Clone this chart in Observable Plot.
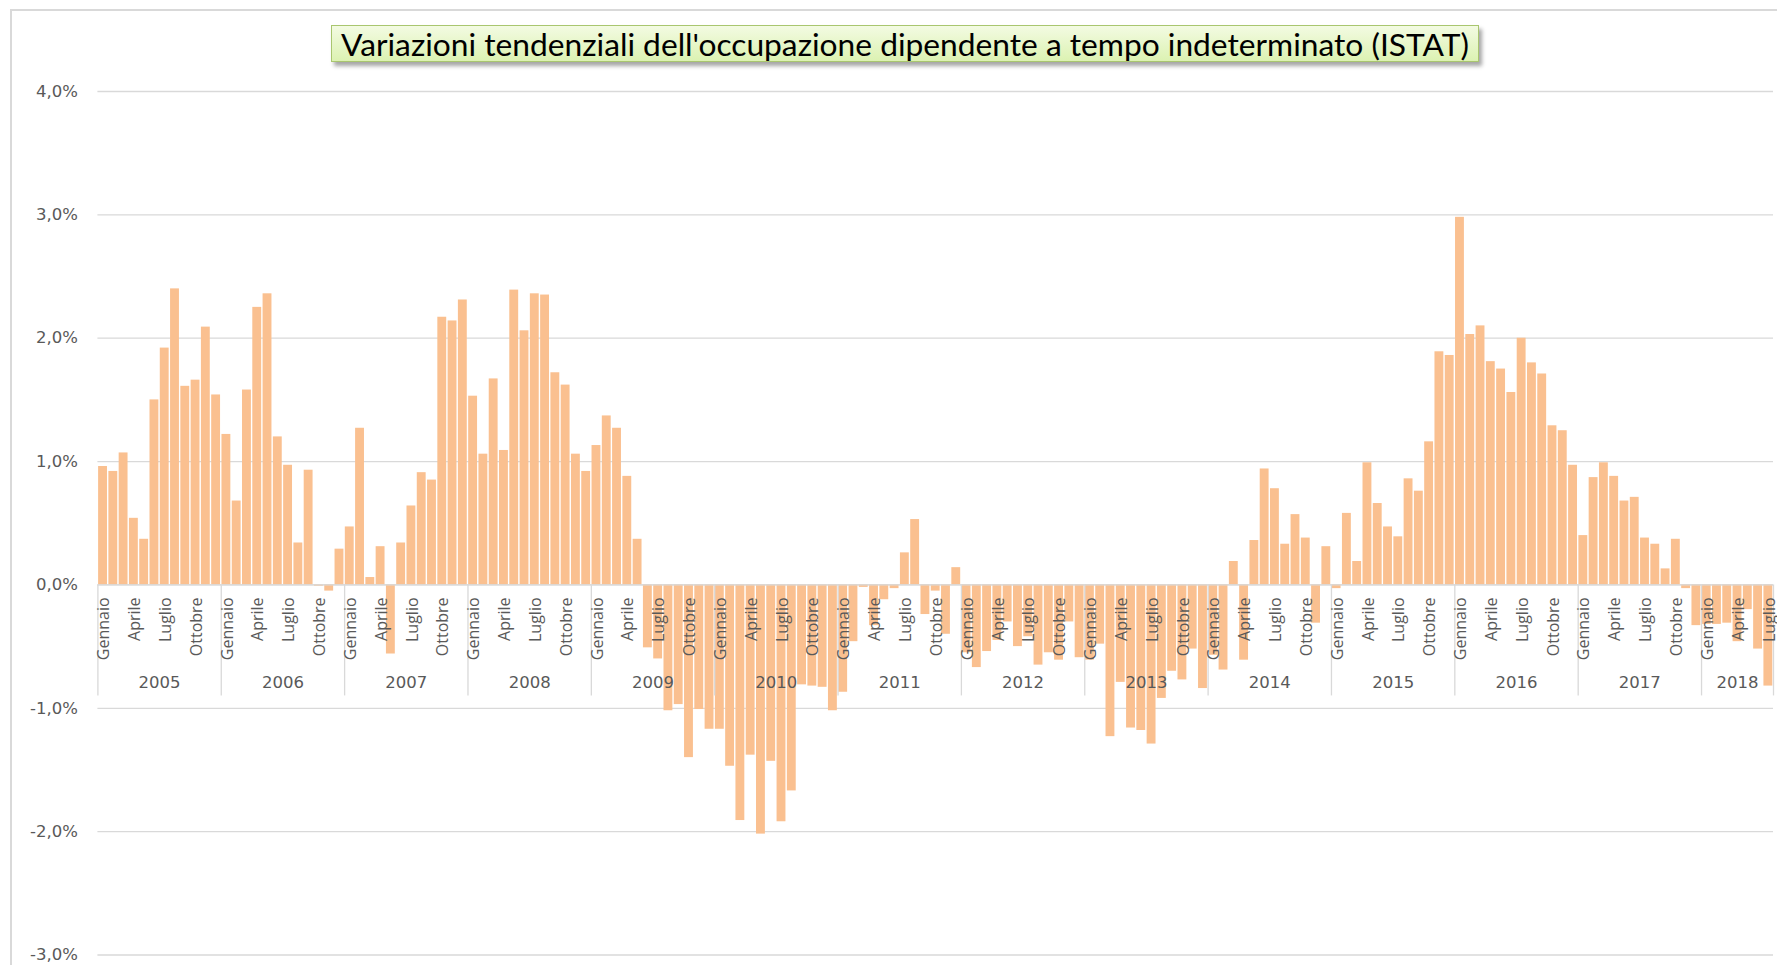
<!DOCTYPE html>
<html><head><meta charset="utf-8">
<script src="https://cdn.jsdelivr.net/npm/d3@7"></script>
<script src="https://cdn.jsdelivr.net/npm/@observablehq/plot@0.6"></script>
<style>
html,body{margin:0;padding:0;background:#fff;}
#wrap{position:relative;width:1777px;height:965px;overflow:hidden;}
#frame{position:absolute;left:10px;top:9px;right:-10px;bottom:-10px;border-left:2px solid #d9d9d9;border-top:2px solid #d9d9d9;}
#chart{position:absolute;left:0;top:0;}
#title{position:absolute;left:331px;top:25px;width:1148px;height:37px;box-sizing:border-box;border:1px solid #a9c66f;background:linear-gradient(#f3fbe2,#dcf2b2);box-shadow:3px 4px 4px rgba(0,0,0,0.35);display:flex;align-items:center;justify-content:center;font-family:Lato,"Open Sans",sans-serif;font-size:28px;color:#000;white-space:nowrap;}
</style></head>
<body>
<div id="wrap"><div id="frame"></div><div id="chart"></div>
<div id="title"><span id="tt">Variazioni tendenziali dell'occupazione dipendente a tempo indeterminato (ISTAT)</span></div></div>
<script>
const years = [2005, 2006, 2007, 2008, 2009, 2010, 2011, 2012, 2013, 2014, 2015, 2016, 2017, 2018];
const months = ["Gennaio","Febbraio","Marzo","Aprile","Maggio","Giugno","Luglio","Agosto","Settembre","Ottobre","Novembre","Dicembre"];
const v2005 = [0.96, 0.92, 1.07, 0.54, 0.37, 1.50, 1.92, 2.40, 1.61, 1.66, 2.09, 1.54];
const v2006 = [1.22, 0.68, 1.58, 2.25, 2.36, 1.20, 0.97, 0.34, 0.93, -0.01, -0.05, 0.29];
const v2007 = [0.47, 1.27, 0.06, 0.31, -0.56, 0.34, 0.64, 0.91, 0.85, 2.17, 2.14, 2.31];
const v2008 = [1.53, 1.06, 1.67, 1.09, 2.39, 2.06, 2.36, 2.35, 1.72, 1.62, 1.06, 0.92];
const v2009 = [1.13, 1.37, 1.27, 0.88, 0.37, -0.51, -0.60, -1.02, -0.97, -1.40, -1.01, -1.17];
const v2010 = [-1.17, -1.47, -1.91, -1.38, -2.02, -1.43, -1.92, -1.67, -0.81, -0.82, -0.83, -1.02];
const v2011 = [-0.87, -0.46, -0.02, -0.33, -0.12, -0.03, 0.26, 0.53, -0.24, -0.05, -0.40, 0.14];
const v2012 = [-0.55, -0.67, -0.54, -0.45, -0.30, -0.50, -0.42, -0.65, -0.55, -0.61, -0.30, -0.59];
const v2013 = [-0.61, -0.48, -1.23, -0.79, -1.16, -1.18, -1.29, -0.92, -0.70, -0.77, -0.52, -0.84];
const v2014 = [-0.57, -0.69, 0.19, -0.61, 0.36, 0.94, 0.78, 0.33, 0.57, 0.38, -0.31, 0.31];
const v2015 = [-0.03, 0.58, 0.19, 0.99, 0.66, 0.47, 0.39, 0.86, 0.76, 1.16, 1.89, 1.86];
const v2016 = [2.98, 2.03, 2.10, 1.81, 1.75, 1.56, 2.00, 1.80, 1.71, 1.29, 1.25, 0.97];
const v2017 = [0.40, 0.87, 0.99, 0.88, 0.68, 0.71, 0.38, 0.33, 0.13, 0.37, -0.03, -0.33];
const v2018 = [-0.32, -0.32, -0.31, -0.46, -0.20, -0.52, -0.82];
const yTicks = [-3, -2, -1, 0, 1, 2, 3, 4];

const series = [v2005, v2006, v2007, v2008, v2009, v2010, v2011, v2012, v2013, v2014, v2015, v2016, v2017, v2018];
const data = [];
const groups = [];
series.forEach((arr, yi) => {
  const start = data.length;
  arr.forEach((v, m) => data.push({i: data.length, year: years[yi], m, month: months[m], v}));
  groups.push({year: String(years[yi]), start, end: data.length});
});
const bounds = groups.map(g => g.start).concat([data.length]);
const fmt = d => d.toFixed(1).replace(".", ",") + "%";
const grey = "#595959";

const chart = Plot.plot({
  width: 1777,
  height: 965,
  marginLeft: 97.4,
  marginRight: 4,
  marginTop: 91,
  marginBottom: 10.5,
  style: {fontFamily: "'DejaVu Sans', sans-serif", background: "transparent", overflow: "visible"},
  x: {type: "linear", domain: [0, data.length], axis: null},
  y: {domain: [-3, 4]},
  marks: [
    Plot.ruleY(yTicks, {stroke: "#d9d9d9", strokeWidth: 1.3}),
    Plot.rectY(data, {x1: "i", x2: d => d.i + 1, y: "v", fill: "#FAC090", insetLeft: 0.7, insetRight: 0.7}),
    Plot.ruleY([0], {stroke: "#d9d9d9", strokeWidth: 1.3}),
    Plot.ruleX(bounds, {x: d => d, y1: 0, y2: 0, insetBottom: -111, stroke: "#d9d9d9", strokeWidth: 1.3}),
    Plot.text(data.filter(d => d.m % 3 === 0), {x: d => d.i + 0.6, y: 0, text: "month", rotate: -90, textAnchor: "end", lineAnchor: "middle", dy: 12.5, fontSize: 16, fontFamily: "'Open Sans', sans-serif", fill: grey}),
    Plot.text(groups, {x: d => (d.start + d.end) / 2, y: 0, text: "year", dy: 98, lineAnchor: "middle", fontSize: 16.5, fill: grey}),
    Plot.axisY({ticks: yTicks, tickFormat: fmt, tickSize: 0, tickPadding: 20, fontSize: 16.5, fill: grey, label: null})
  ]
});
document.getElementById("chart").appendChild(chart);

function fitTitle() {
  const t = document.getElementById("tt");
  const box = document.getElementById("title");
  const w = t.getBoundingClientRect().width;
  const fs = parseFloat(getComputedStyle(box).fontSize);
  box.style.fontSize = (fs * 1128 / w) + "px";
}
if (document.fonts && document.fonts.ready) document.fonts.ready.then(fitTitle); else fitTitle();
fitTitle();
</script>
</body></html>
